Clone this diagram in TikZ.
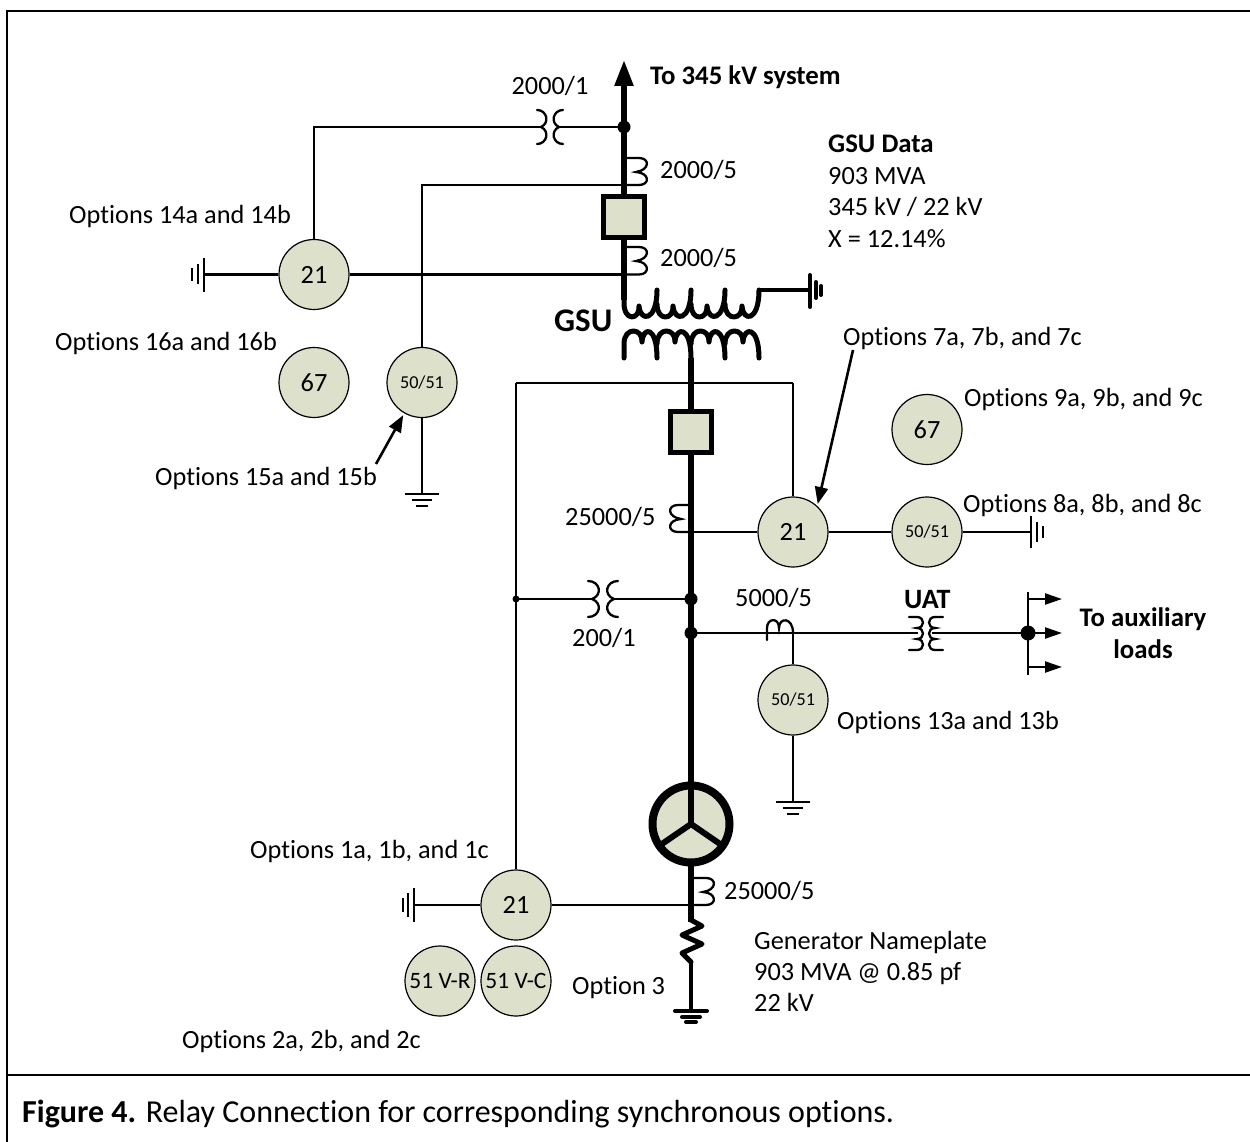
\documentclass[tikz,border=0pt]{standalone}
\usepackage{fontspec}
\setmainfont{Carlito}[Ligatures=NoCommon]
\usetikzlibrary{arrows.meta}
\definecolor{relayfill}{HTML}{DDE1CB}
\newcommand{\bigtxt}{\fontsize{26.3}{31}\selectfont}
\newcommand{\smalltxt}{\fontsize{18.2}{22}\selectfont}
\tikzset{
  x=1pt,y=-1pt,
  relay/.style={circle,draw=black,line width=1.2pt,fill=relayfill,minimum size=#1,inner sep=0pt},
  relay/.default=70pt,
  breaker/.style={rectangle,draw=black,line width=5pt,fill=relayfill,minimum size=40.5pt,inner sep=0pt},
  wire/.style={line width=2.3pt,line cap=butt},
  bus/.style={line width=5.5pt},
  winding/.style={line width=5pt,line cap=round,line join=round},
  coil/.style={line width=2.3pt,line cap=round},
  gnd/.style={line width=2.4pt},
  gndt/.style={line width=4pt,line cap=round},
  lbl/.style={inner sep=0pt,anchor=west,font=\bigtxt},
  lblc/.style={inner sep=0pt,font=\bigtxt},
  blbl/.style={inner sep=0pt,anchor=west,font=\fontsize{26.8}{31}\selectfont\bfseries},
  blblc/.style={inner sep=0pt,font=\fontsize{26.8}{31}\selectfont\bfseries},
  dot/.style={circle,fill=black,inner sep=0pt,minimum size=#1},
  ptr/.style={line width=2.6pt,shorten >=2pt,-{Triangle[length=17pt,width=13pt]}},
  outa/.style={line width=2.3pt,-{Triangle[length=17pt,width=11pt]}},
}
% #1,#2 centre; #3 half height; #4 half width to the tips
\newcommand{\ctpair}[4]{%
  \draw[coil] (#1-#4,#2-#3) .. controls (#1-3,#2-#3) and (#1,#2-4) .. (#1-#4+4,#2)
     .. controls (#1,#2+4) and (#1-3,#2+#3) .. (#1-#4,#2+#3);
  \draw[coil] (#1+#4,#2-#3) .. controls (#1+3,#2-#3) and (#1,#2-4) .. (#1+#4-4,#2)
     .. controls (#1,#2+4) and (#1+3,#2+#3) .. (#1+#4,#2+#3);}
\newcommand{\ctside}[4]{%
  \draw[coil] (#1,#2) -- (#1+#4*13,#2) .. controls (#1+#4*24,#2) and (#1+#4*24,#2+12) .. (#1+#4*10,#2+14)
     .. controls (#1+#4*24,#2+15) and (#1+#4*24,#3) .. (#1+#4*13,#3) -- (#1,#3);}
\begin{document}
\begin{tikzpicture}
\useasboundingbox (0,0) rectangle (1250,1142);
\fill[white] (0,0) rectangle (1250,1142);
% frame
\draw[line width=2pt] (7,1142) -- (7,11) -- (1250,11);
\draw[line width=2pt] (7,1075) -- (1250,1075);

% named points
\coordinate (busTop) at (624,60);
\coordinate (busJ1) at (624,127);
\coordinate (busLow) at (624,300);
\coordinate (hvEnd) at (759,290);
\coordinate (hvGnd) at (810,290);
\coordinate (lvTop) at (691,358);
\coordinate (tapA) at (516,383);
\coordinate (tapB) at (793,383);
\coordinate (tapC) at (516,599);
\coordinate (j200) at (691,599);
\coordinate (j5000) at (691,633);
\coordinate (j21g) at (691,532);
\coordinate (hub) at (1028,633);
\coordinate (j2000a) at (624,185);
\coordinate (j2000b) at (626,274.5);
\coordinate (gTail) at (691,905);
\coordinate (g1) at (204,274.5);
\coordinate (g2) at (422,494);
\coordinate (g3) at (1031,532);
\coordinate (g4) at (793,802);
\coordinate (g5) at (691,1011);
\coordinate (g6) at (414,905);
\coordinate (p7) at (853,350);
\coordinate (p15) at (376,464);

% buses
\draw[bus] (busLow) -- (busJ1);
\draw[bus,-{Triangle[length=26pt,width=18pt]}] (busJ1) -- (busTop);
\draw[bus] (lvTop) -- (691,790);
\draw[bus] (691,860) -- (691,922);

% HV winding
\draw[winding] (624,295) -- (624,303) .. controls (624,322) and (640,320) .. (639,306)
  .. controls (640,322) and (657,322) .. (657,290);
\draw[winding] (657,304) .. controls (657,322) and (674,320) .. (673,306)
  .. controls (674,322) and (691,322) .. (691,290);
\draw[winding] (691,304) .. controls (691,322) and (708,320) .. (707,306)
  .. controls (708,322) and (725,322) .. (725,290);
\draw[winding] (725,304) .. controls (725,322) and (743,320) .. (742,306)
  .. controls (743,322) and (759,322) .. (759,290);
\draw[line width=4pt] (hvEnd) -- (hvGnd);
\draw[gndt] (hvGnd) ++(0,-15) -- ++(0,32);
\draw[gndt] (816,282) -- (816,298);
\draw[gndt] (821,286) -- (821,295);
% LV winding
\draw[winding] (624,358) -- (624,344) .. controls (624,326) and (643,328) .. (642,342)
  .. controls (643,326) and (657,326) .. (657,358);
\draw[winding] (657,344) .. controls (657,326) and (676,328) .. (675,342)
  .. controls (676,326) and (691,326) .. (691,358);
\draw[winding] (691,344) .. controls (691,326) and (710,328) .. (709,342)
  .. controls (710,326) and (725,326) .. (725,358);
\draw[winding] (725,344) .. controls (725,326) and (744,328) .. (743,342)
  .. controls (744,326) and (759,326) .. (759,358);

% breakers
\node[breaker] (cb1) at (624,217) {};
\node[breaker] (cb2) at (691,432) {};

% relays
\node[relay] (r21a) at (314,274.5) {\bigtxt 21};
\node[relay] (r67a) at (314,382.5) {\bigtxt 67};
\node[relay] (r50a) at (422,382.5) {\smalltxt 50/51};
\node[relay] (r67b) at (927,429.5) {\bigtxt 67};
\node[relay] (r21b) at (793,532) {\bigtxt 21};
\node[relay] (r50b) at (927,532) {\smalltxt 50/51};
\node[relay] (r50c) at (793,700) {\smalltxt 50/51};
\node[relay] (r21c) at (516,905) {\bigtxt 21};
\node[relay] (rvr) at (440,981) {\fontsize{23.5}{28}\selectfont 51 V-R};
\node[relay] (rvc) at (516,981) {\fontsize{23.5}{28}\selectfont 51 V-C};

% generator
\node[circle,draw=black,line width=8pt,fill=relayfill,minimum size=77pt,inner sep=0pt] (gen) at (691,824) {};
\coordinate (genC) at (691,824);
\draw[line width=6pt,line cap=round] (genC) -- (691,785);
\draw[line width=6pt,line cap=round] (genC) -- (659,846);
\draw[line width=6pt,line cap=round] (genC) -- (723,846);

% wiring
\draw[wire] (r21a.north) -- (314,127) -- (541,127);
\draw[wire] (559,127) -- (busJ1);
\ctpair{550}{127}{17}{13}
\draw[wire] (g1) -- (r21a.west);
\draw[wire] (r21a.east) -- (j2000b);
\draw[wire] (r50a.north) -- (422,185) -- (j2000a);
\draw[wire] (r50a.south) -- (g2);
\ctside{626}{158}{185}{1}
\ctside{626}{247}{274.5}{1}

\draw[wire] (tapA) -- (tapB);
\draw[wire] (tapA) -- (r21c.north);
\draw[wire] (tapB) -- (r21b.north);
\draw[wire] (j21g) -- (r21b.west);
\draw[wire] (r21b.east) -- (r50b.west);
\draw[wire] (r50b.east) -- (g3);
\ctside{691}{505}{532}{-1}

\draw[wire] (tapC) -- (592,599);
\draw[wire] (614,599) -- (j200);
\ctpair{603}{599}{18}{15}
\node[dot=7pt] at (tapC) {};
\node[dot=13pt] at (busJ1) {};
\node[dot=13pt] at (j200) {};
\node[dot=13pt] at (j5000) {};

\draw[wire] (j5000) -- (918,633);
\draw[wire] (r50c.north) -- (793,633);
\draw[coil] (767,640) -- (767,628) .. controls (767,618) and (779,617) .. (779,628)
  .. controls (779,617) and (793,617) .. (793,633);
\draw[wire] (r50c.south) -- (g4);

% UAT
\draw[coil] (909,617) -- (917,617) .. controls (925,617) and (925,628) .. (917,628)
  .. controls (925,628) and (925,639) .. (917,639)
  .. controls (925,639) and (925,650) .. (917,650) -- (909,650);
\draw[coil] (943,617) -- (935,617) .. controls (927,617) and (927,628) .. (935,628)
  .. controls (927,628) and (927,639) .. (935,639)
  .. controls (927,639) and (927,650) .. (935,650) -- (943,650);
\draw[wire] (932,633) -- (hub);
\draw[wire] (1028,592) -- (1028,675);
\node[dot=15pt] at (hub) {};
\coordinate (o1) at (1062,599);
\coordinate (o2) at (1062,633);
\coordinate (o3) at (1062,667);
\draw[outa] (1028,599) -- (o1);
\draw[outa] (hub) -- (o2);
\draw[outa] (1028,667) -- (o3);

% generator tail
\draw[wire] (r21c.east) -- (gTail);
\ctside{693}{878}{905}{1}
\draw[line width=5pt,line join=round,line cap=round] (691,920) -- (702,926) -- (682,935) -- (702,944) -- (682,953) -- (691,962);
\draw[line width=4pt] (691,962) -- (g5);
\draw[wire] (g6) -- (r21c.west);

% grounds
\draw[gnd] (g1) ++(0,-17) -- ++(0,34);
\draw[gnd] (198,264) -- (198,284);
\draw[gnd] (192,268) -- (192,281);
\draw[gnd] (g3) ++(0,-16) -- ++(0,32);
\draw[gnd] (1037,522) -- (1037,542);
\draw[gnd] (1043,526) -- (1043,538);
\draw[gnd] (g6) ++(0,-17) -- ++(0,34);
\draw[gnd] (408,893) -- (408,917);
\draw[gnd] (403,898) -- (403,912);
\draw[gnd] (g2) ++(-17,0) -- ++(34,0);
\draw[gnd] (412,500) -- (432,500);
\draw[gnd] (416,506) -- (428,506);
\draw[gnd] (g4) ++(-17,0) -- ++(34,0);
\draw[gnd] (783,808) -- (803,808);
\draw[gnd] (787,814) -- (799,814);
\draw[gndt] (g5) ++(-16,0) -- ++(32,0);
\draw[gndt] (682,1017) -- (700,1017);
\draw[gndt] (686,1022) -- (696,1022);

% pointer arrows
\draw[ptr] (p7) -- (r21b.47);
\draw[ptr] (p15) -- (r50a.240);

% labels
\node[lbl] (o7) at (843,338) {Options 7a, 7b, and 7c};
\node[lbl] (o15) at (155,478) {Options 15a and 15b};
\node[blbl] (t1) at (650,77) {To 345 kV system};
\node[lblc] (t2) at (550,86) {2000/1};
\node[lbl] (t3) at (660,170) {2000/5};
\node[lbl] (t4) at (660,258) {2000/5};
\node[blbl] (t5) at (828,144) {GSU Data};
\node[lbl] (t6) at (828,176) {903 MVA};
\node[lbl] (t7) at (828,207) {345 kV / 22 kV};
\node[lbl] (t8) at (828,239) {X = 12.14\%};
\node[inner sep=0pt,anchor=west,font=\fontsize{33}{37}\selectfont\bfseries] (t9) at (554,321) {GSU};
\node[lbl] (t10) at (69,216) {Options 14a and 14b};
\node[lbl] (t11) at (55,343) {Options 16a and 16b};
\node[lbl] (t12) at (964,399) {Options 9a, 9b, and 9c};
\node[lbl] (t13) at (963,505) {Options 8a, 8b, and 8c};
\node[lbl] (t14) at (565,517) {25000/5};
\node[lbl] (t15) at (735,598) {5000/5};
\node[lbl] (t16) at (572,638) {200/1};
\node[inner sep=0pt,anchor=west,font=\fontsize{28}{32}\selectfont\bfseries] (t17) at (904,600) {UAT};
\node[blblc] (t18) at (1143,619) {To auxiliary};
\node[blblc] (t19) at (1143,649) {loads};
\node[lbl] (t20) at (837,722) {Options 13a and 13b};
\node[lbl] (t21) at (250,851) {Options 1a, 1b, and 1c};
\node[lbl] (t22) at (724,891) {25000/5};
\node[lbl] (t23) at (754,942) {Generator Nameplate};
\node[lbl] (t24) at (754,974) {903 MVA @ 0.85 pf};
\node[lbl] (t25) at (754,1002) {22 kV};
\node[lbl] (t26) at (572,988) {Option 3};
\node[lbl] (t27) at (182,1041) {Options 2a, 2b, and 2c};
\node[inner sep=0pt,anchor=west,font=\fontsize{32}{36}\selectfont] (cap) at (22,1114) {\textbf{Figure 4.} Relay Connection for corresponding synchronous options.};
\end{tikzpicture}
\end{document}
